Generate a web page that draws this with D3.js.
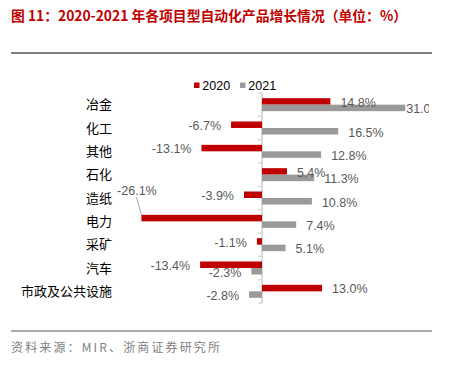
<!DOCTYPE html>
<html><head><meta charset="utf-8">
<script src="https://cdn.jsdelivr.net/npm/d3@7"></script>
<style>body{margin:0;background:#fff}svg{display:block}</style>
</head><body>
<script>
const categories = ['冶金','化工','其他','石化','造纸','电力','采矿','汽车','市政及公共设施'];
const v2020 = [14.8, -6.7, -13.1, 5.4, -3.9, -26.1, -1.1, -13.4, 13.0];
const v2021 = [31.0, 16.5, 12.8, 11.3, 10.8, 7.4, 5.1, -2.3, -2.8];
const seriesNames = ['2020', '2021'];
const titleText = '图 11：2020-2021 年各项目型自动化产品增长情况（单位：%）';
const sourceText = '资料来源：MIR、浙商证券研究所';

const W = 451, H = 368;
const RED = '#C00000', GRAY = '#9a9a9a';
const svg = d3.select('body').append('svg').attr('width', W).attr('height', H);

svg.append('text').attr('x', 11).attr('y', 20.5)
  .attr('font-family', '"Noto Sans CJK SC", sans-serif').attr('font-weight', 'bold')
  .attr('font-size', 14).attr('fill', RED)
  .attr('textLength', 396).attr('lengthAdjust', 'spacingAndGlyphs')
  .text(titleText);
svg.append('line').attr('x1', 11).attr('x2', 432).attr('y1', 53).attr('y2', 53)
  .attr('stroke', '#000').attr('stroke-width', 1);

const x = d3.scaleLinear().domain([-30, 35]).range([123.4, 423.7]);
const y = d3.scaleBand().domain(categories).range([93, 303]).paddingInner(0).paddingOuter(0);
const barH = 6.5;
const clipRight = 429;

const defs = svg.append('defs');
defs.append('clipPath').attr('id', 'clip').append('rect')
  .attr('x', 0).attr('y', 60).attr('width', clipRight).attr('height', 260);

const g = svg.append('g');
const data = categories.map((c, i) => ({c, a: v2020[i], b: v2021[i]}));

// axis
g.append('line').attr('x1', x(0)).attr('x2', x(0)).attr('y1', y.range()[0]).attr('y2', y.range()[1])
  .attr('stroke', '#d9d9d9').attr('stroke-width', 2);
const bounds = categories.map(c => y(c)).concat([y.range()[1]]);
g.selectAll('.tick').data(bounds).join('line')
  .attr('x1', x(0) - 4).attr('x2', x(0)).attr('y1', d => d).attr('y2', d => d)
  .attr('stroke', '#d9d9d9').attr('stroke-width', 1.5);

const cy = c => y(c) + y.bandwidth() / 2;

// bars
g.selectAll('.b20').data(data).join('rect')
  .attr('x', d => x(Math.min(0, d.a))).attr('width', d => Math.abs(x(d.a) - x(0)))
  .attr('y', d => cy(d.c) - barH).attr('height', barH).attr('fill', RED);
g.selectAll('.b21').data(data).join('rect')
  .attr('x', d => x(Math.min(0, d.b))).attr('width', d => Math.abs(x(d.b) - x(0)))
  .attr('y', d => cy(d.c)).attr('height', barH).attr('fill', GRAY);

// category labels
g.selectAll('.cat').data(categories).join('text')
  .attr('x', 112).attr('y', c => cy(c)).attr('dy', '0.35em')
  .attr('text-anchor', 'end').attr('font-family', '"Noto Sans CJK SC", sans-serif')
  .attr('font-size', 13).attr('fill', '#000').text(c => c);

// value labels
const lab = svg.append('g').attr('clip-path', 'url(#clip)')
  .attr('font-family', '"Liberation Sans", Arial, sans-serif').attr('font-size', 12.5).attr('fill', '#595959');
const fmt = v => v.toFixed(1) + '%';
const labels = [];
data.forEach(d => {
  labels.push({v: d.a, yc: cy(d.c) - barH / 2, special: d.a < -20});
  labels.push({v: d.b, yc: cy(d.c) + barH / 2, special: false});
});
labels.forEach(l => {
  if (l.special) {
    const bx = x(l.v), by = l.yc - barH / 2;
    lab.append('text').attr('x', bx - 4.5).attr('y', l.yc - 27).attr('dy', '0.35em')
      .attr('text-anchor', 'middle').text(fmt(l.v));
    lab.append('line').attr('x1', bx - 5).attr('y1', l.yc - 21).attr('x2', bx).attr('y2', by)
      .attr('stroke', '#a6a6a6').attr('stroke-width', 1);
  } else {
    const pos = l.v >= 0;
    const t = lab.append('text').attr('y', l.yc + 1).attr('dy', '0.35em')
      .attr('text-anchor', pos ? 'start' : 'end').text(fmt(l.v));
    let tx = x(l.v) + (pos ? 10 : -10);
    if (pos && tx + 30 > clipRight) tx = x(l.v) + 1;
    t.attr('x', tx);
  }
});

// legend
const leg = svg.append('g').attr('font-family', '"Liberation Sans", Arial, sans-serif').attr('font-size', 12.5);
[[194, RED], [240, GRAY]].forEach((p, i) => {
  leg.append('rect').attr('x', p[0]).attr('y', 82.5).attr('width', 5.5).attr('height', 5.5).attr('fill', p[1]);
  leg.append('text').attr('x', p[0] + 8.3).attr('y', 85.3).attr('dy', '0.35em').attr('fill', '#000').text(seriesNames[i]);
});

// bottom
svg.append('line').attr('x1', 11).attr('x2', 432).attr('y1', 331).attr('y2', 331)
  .attr('stroke', '#8c8c8c').attr('stroke-width', 1.5);
svg.append('text').attr('x', 11).attr('y', 351.5)
  .attr('font-family', '"Noto Sans CJK SC", sans-serif').attr('font-size', 12).attr('fill', '#7f7f7f')
  .attr('textLength', 209).attr('lengthAdjust', 'spacing').text(sourceText);
</script>
</body></html>
